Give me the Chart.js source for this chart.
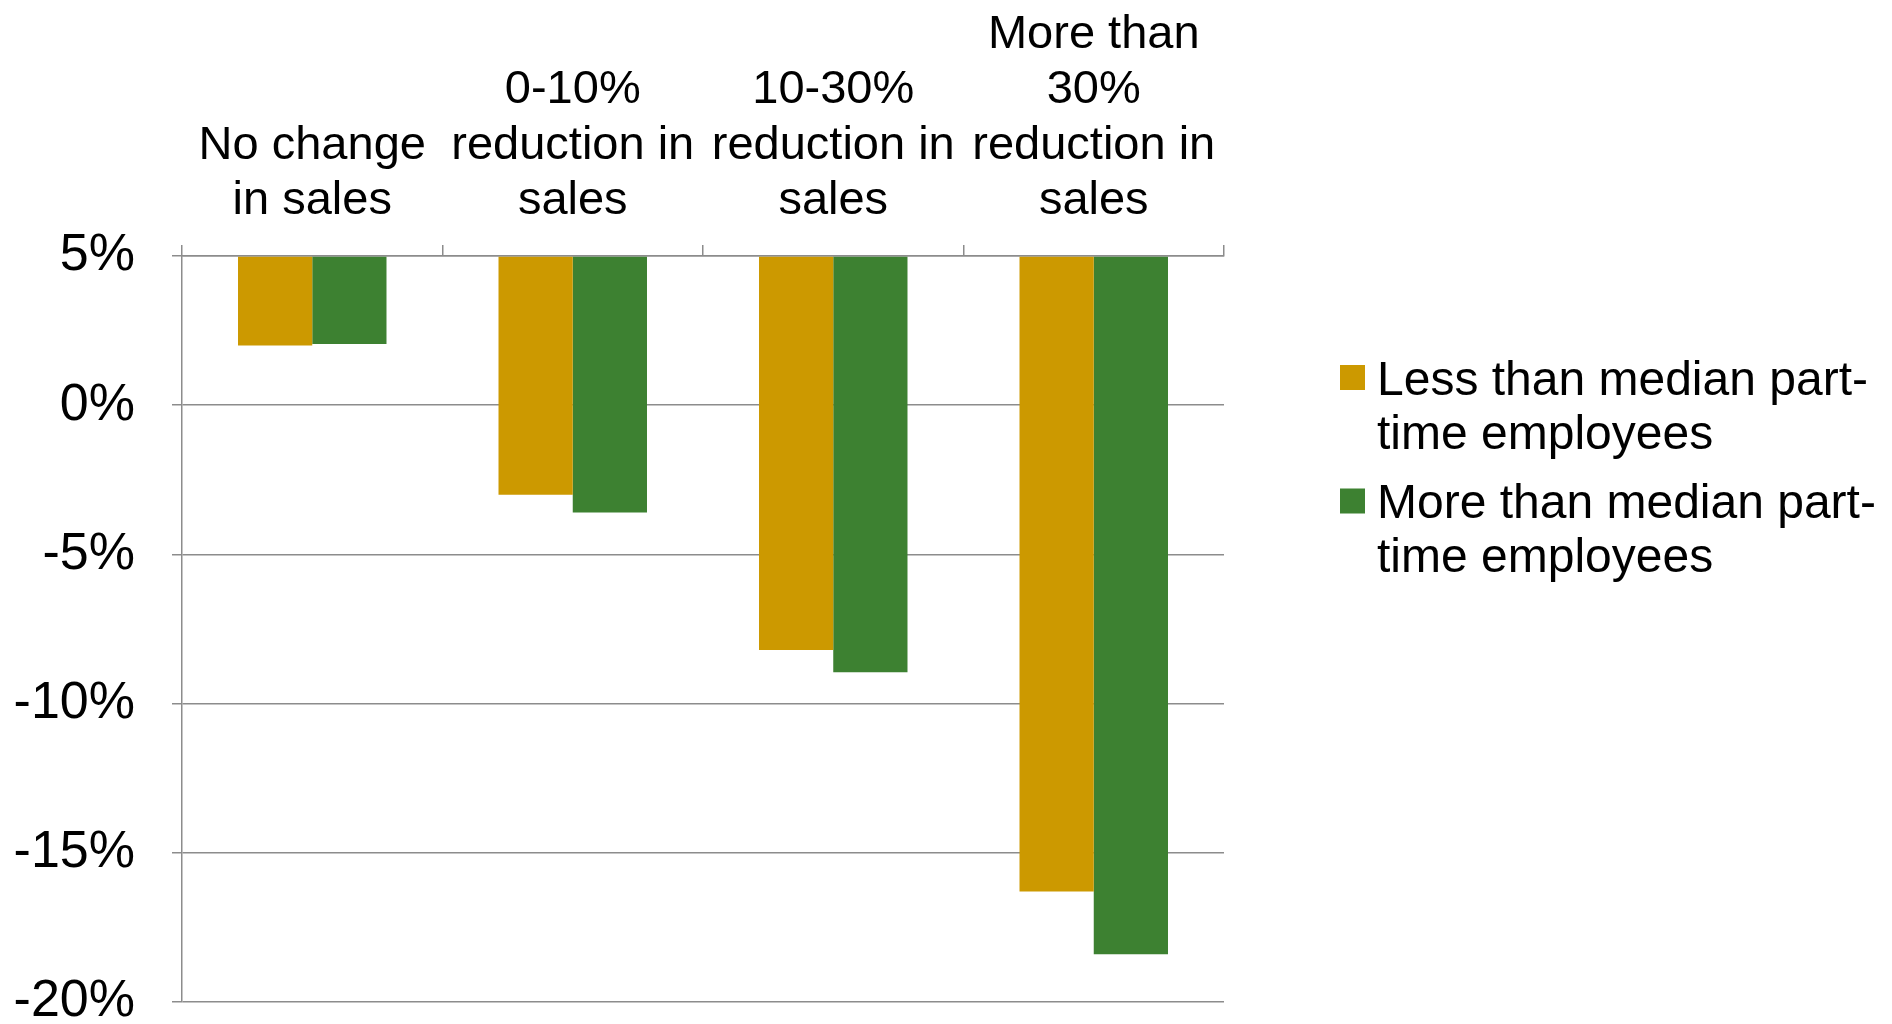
<!DOCTYPE html>
<html>
<head>
<meta charset="utf-8">
<script src="https://cdn.jsdelivr.net/npm/chart.js@4"></script>
<style>
html, body { margin: 0; padding: 0; background: #fff; }
#wrap { width: 1892px; height: 1024px; position: relative; }
</style>
</head>
<body>
<div id="wrap"><canvas id="chart"></canvas></div>
<script>
// change in employment by sales change group
var categories = [
	['No change', 'in sales'],
	['0-10%', 'reduction in', 'sales'],
	['10-30%', 'reduction in', 'sales'],
	['More than', '30%', 'reduction in', 'sales']
];
var lessThanMedian = [2.0, -3.0, -8.2, -16.3];
var moreThanMedian = [2.05, -3.6, -8.95, -18.4];
var seriesNames = [
	['Less than median part-', 'time employees'],
	['More than median part-', 'time employees']
];
var seriesColors = ['#cc9900', '#3d8131'];
var yTicks = [5, 0, -5, -10, -15, -20];

var FONT = '"Liberation Sans", Arial, sans-serif';
var GRID = '#8c8c8c';

// legend on the right, with wrapped labels
var sideLegend = {
	id: 'sideLegend',
	afterDraw: function (chart) {
		var ctx = chart.ctx;
		ctx.save();
		ctx.font = '48px ' + FONT;
		ctx.textAlign = 'left';
		ctx.textBaseline = 'alphabetic';
		chart.data.datasets.forEach(function (ds, i) {
			var top = 365 + i * 123.5;
			ctx.fillStyle = ds.backgroundColor;
			ctx.fillRect(1340, top, 25, 25);
			ctx.fillStyle = '#000';
			seriesNames[i].forEach(function (line, j) {
				ctx.fillText(line, 1377, top + 29.5 + j * 54);
			});
		});
		ctx.restore();
	}
};

var ctx = document.getElementById('chart');
var myChart = new Chart(ctx, {
	type: 'bar',
	data: {
		labels: categories,
		datasets: [{
			label: seriesNames[0].join(''),
			data: lessThanMedian,
			backgroundColor: seriesColors[0],
			base: yTicks[0],
			borderWidth: 0
		}, {
			label: seriesNames[1].join(''),
			data: moreThanMedian,
			backgroundColor: seriesColors[1],
			base: yTicks[0],
			borderWidth: 0
		}]
	},
	options: {
		responsive: true,
		maintainAspectRatio: false,
		animation: false,
		layout: { padding: { top: 0, left: 0, right: 668, bottom: 22 } },
		datasets: {
			bar: { categoryPercentage: 0.57, barPercentage: 1.0 }
		},
		plugins: {
			legend: { display: false },
			tooltip: { enabled: false }
		},
		scales: {
			x: {
				position: 'top',
				offset: true,
				afterFit: function (scale) {
					scale.height = 256;
					scale.paddingLeft = 0;
					scale.paddingRight = 0;
				},
				border: { display: true, color: GRID, width: 1.5 },
				grid: {
					offset: true,
					drawOnChartArea: false,
					drawTicks: true,
					tickLength: 11,
					color: GRID,
					lineWidth: 1.5
				},
				ticks: {
					color: '#000',
					padding: 16,
					maxRotation: 0,
					autoSkip: false,
					font: { family: FONT, size: 47, lineHeight: 1.18 }
				}
			},
			y: {
				min: yTicks[yTicks.length - 1],
				max: yTicks[0],
				afterFit: function (scale) {
					scale.width = 182;
					scale.paddingTop = 0;
					scale.paddingBottom = 0;
				},
				border: { display: true, color: GRID, width: 1.5 },
				grid: {
					color: GRID,
					lineWidth: 1.5,
					drawTicks: true,
					tickLength: 10
				},
				ticks: {
					stepSize: 5,
					color: '#000',
					padding: 37,
					font: { family: FONT, size: 52, lineHeight: 0.8 },
					callback: function (v) { return v + '%'; }
				}
			}
		}
	},
	plugins: [sideLegend]
});
</script>
</body>
</html>
